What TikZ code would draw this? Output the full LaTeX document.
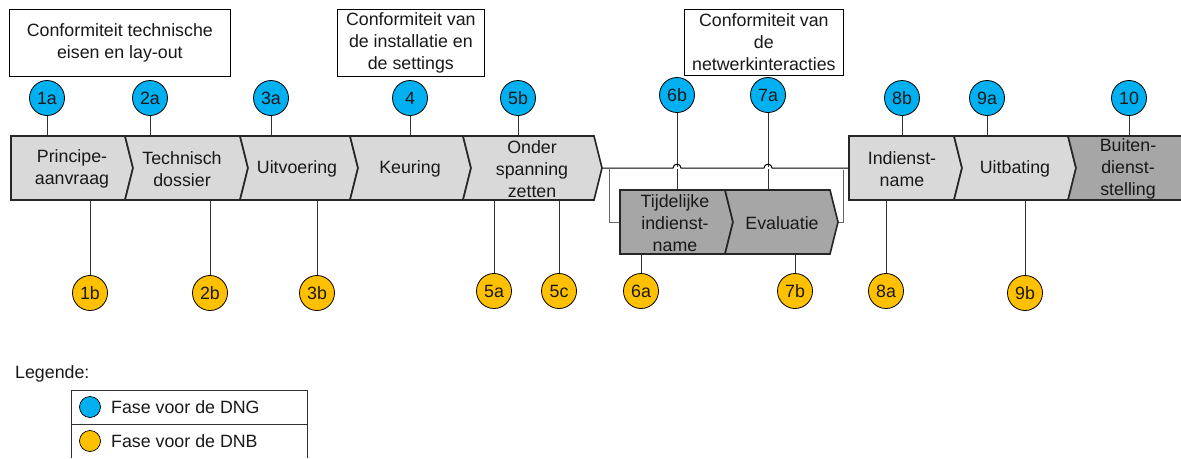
\documentclass[tikz,border=0pt]{standalone}
\usepackage{fontspec}
\setmainfont{Liberation Sans}
\definecolor{dng}{HTML}{00B0F0}
\definecolor{dnb}{HTML}{FFC000}
\definecolor{lightphase}{HTML}{D9D9D9}
\definecolor{darkphase}{HTML}{A6A6A6}
\definecolor{wire}{HTML}{333333}
\tikzset{
  base/.style={font=\fontsize{17.8}{22}\selectfont,text=black!90},
  mark dng/.style={base,circle,draw=black,line width=0.8pt,fill=dng,minimum size=35,inner sep=0},
  mark dnb/.style={base,circle,draw=black,line width=0.8pt,fill=dnb,minimum size=35,inner sep=0},
  phasetext/.style={base,align=center,inner sep=0,outer sep=0,minimum height=64},
  note/.style={base,draw=black,line width=0.7pt,fill=white,align=center,inner sep=0,anchor=north west},
  wireline/.style={draw=wire,line width=1pt},
  chevfill/.style={line width=1.6pt,draw=black!85,line join=miter},
  ptext/.style={base,align=center,inner sep=0,yshift=-1pt},
  ltext/.style={base,anchor=west,inner sep=0}
}
\newcommand{\phase}[4]{%
  \path[chevfill,fill=#1] (#2,#4) -- (#3,#4) -- (#3+8,#4+32) -- (#3,#4+64) -- (#2,#4+64) -- (#2+8,#4+32) -- cycle;
}
\newcommand{\firstphase}[4]{%
  \path[chevfill,fill=#1] (#2,#4) -- (#3,#4) -- (#3+8,#4+32) -- (#3,#4+64) -- (#2,#4+64) -- cycle;
}
\begin{document}
\begin{tikzpicture}[x=1pt,y=-1pt]
\useasboundingbox (0,0) rectangle (1181,458);
\clip (0,0) rectangle (1181,458);
% invisible named extents of phases
\path[phasetext]
 node[minimum width=114] (p1) at (72,168) {}
 node[minimum width=107] (p2) at (182,168) {}
 node[minimum width=102] (p3) at (297,168) {}
 node[minimum width=105] (p4) at (410,168) {}
 node[minimum width=123] (p5) at (532,168) {}
 node[minimum width=97] (p6) at (675,222) {}
 node[minimum width=97] (p7) at (782,222) {}
 node[minimum width=97] (p8) at (902,168) {}
 node[minimum width=106] (p9) at (1015,168) {}
 node[minimum width=105] (p10) at (1128,168) {};
% circles
\node[mark dng] (c1a) at (47,98) {1a};
\node[mark dng] (c2a) at (150,98) {2a};
\node[mark dng] (c3a) at (271,98) {3a};
\node[mark dng] (c4) at (410,98) {4};
\node[mark dng] (c5b) at (518,98) {5b};
\node[mark dng] (c6b) at (677,95) {6b};
\node[mark dng] (c7a) at (768,95) {7a};
\node[mark dng] (c8b) at (902,98) {8b};
\node[mark dng] (c9a) at (987,98) {9a};
\node[mark dng] (c10) at (1129,98) {10};
\node[mark dnb] (c1b) at (90,293) {1b};
\node[mark dnb] (c2b) at (210,293) {2b};
\node[mark dnb] (c3b) at (317,293) {3b};
\node[mark dnb] (c5a) at (494,291) {5a};
\node[mark dnb] (c5c) at (559,291) {5c};
\node[mark dnb] (c6a) at (641,291) {6a};
\node[mark dnb] (c7b) at (795,291) {7b};
\node[mark dnb] (c8a) at (886,291) {8a};
\node[mark dnb] (c9b) at (1025,293) {9b};
% connectors
\foreach \c/\p in {c1a/p1,c2a/p2,c3a/p3,c4/p4,c5b/p5,c8b/p8,c9a/p9,c10/p10,c6b/p6,c7a/p7}
  \draw[wireline] (\c) -- (\c |- \p.north);
\foreach \c/\p in {c1b/p1,c2b/p2,c3b/p3,c5a/p5,c5c/p5,c6a/p6,c7b/p7,c8a/p8,c9b/p9}
  \draw[wireline] (\c) -- (\c |- \p.south);
% bus with jumps
\coordinate (tip5) at (602,168);
\coordinate (tip7) at (838,222);
\coordinate (in8) at (849,168);
\draw[line width=2pt,white] (673,168) -- (681,168) (764,168) -- (772,168);
\draw[wireline,black] (tip5) -- (673,168) .. controls (673,163) and (681,163) .. (681,168)
  -- (764,168) .. controls (764,163) and (772,163) .. (772,168) -- (in8);
\draw[wireline,draw=black!60] (609,168) -- (609,222) -- (620,222);
\draw[wireline,draw=black!60] (tip7) -- (843,222) -- (843,170);
% phases
\firstphase{lightphase}{11}{125}{136}
\phase{lightphase}{125}{240}{136}
\phase{lightphase}{240}{350}{136}
\phase{lightphase}{350}{463}{136}
\phase{lightphase}{463}{594}{136}
\firstphase{darkphase}{620}{725}{190}
\phase{darkphase}{725}{830}{190}
\firstphase{lightphase}{849}{954}{136}
\phase{lightphase}{954}{1068}{136}
\phase{darkphase}{1068}{1190}{136}
% phase texts
\node[ptext] at (p1) {Principe-\\aanvraag};
\node[ptext] at (p2) {Technisch\\dossier};
\node[ptext] at (p3) {Uitvoering};
\node[ptext] at (p4) {Keuring};
\node[ptext] at (p5) {Onder\\spanning\\zetten};
\node[ptext] at (p6) {Tijdelijke\\indienst-\\name};
\node[ptext] at (p7) {Evaluatie};
\node[ptext] at (p8) {Indienst-\\name};
\node[ptext] at (p9) {Uitbating};
\node[ptext] at (p10) {Buiten-\\dienst-\\stelling};
% notes
\node[note,minimum width=221,minimum height=67] (n1) at (9,9) {Conformiteit technische\\eisen en lay-out};
\node[note,minimum width=147,minimum height=67] (n2) at (337,9) {Conformiteit van\\de installatie en\\de settings};
\node[note,minimum width=159,minimum height=66] (n3) at (684,9) {Conformiteit van\\de\\netwerkinteracties};
% legend
\node[ltext] (lg) at (15,374) {Legende:};
\draw[wireline,line width=0.8pt] (71,458) -- (71,390) -- (307,390) -- (307,458) (71,424) -- (307,424);
\node[circle,draw=black,line width=0.7pt,fill=dng,minimum size=21,inner sep=0] (ld1) at (90,407) {};
\node[circle,draw=black,line width=0.7pt,fill=dnb,minimum size=21,inner sep=0] (ld2) at (90,441) {};
\node[ltext] at (111,407) {Fase voor de DNG};
\node[ltext] at (111,441) {Fase voor de DNB};
\end{tikzpicture}
\end{document}
